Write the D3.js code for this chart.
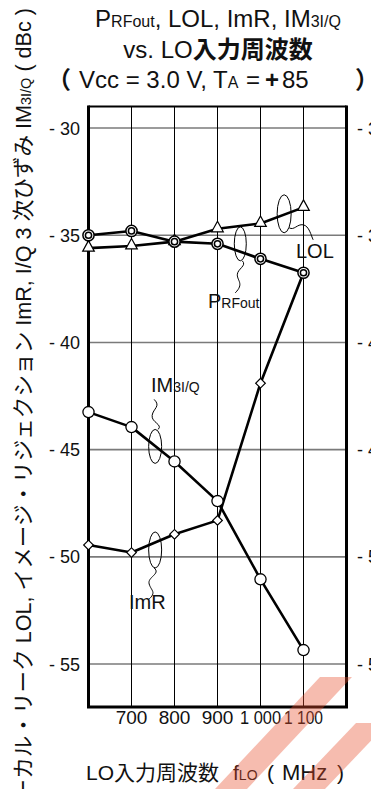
<!DOCTYPE html>
<html>
<head>
<meta charset="utf-8">
<script src="https://cdn.jsdelivr.net/npm/d3@7/dist/d3.min.js"></script>
<style>
  html, body { margin: 0; padding: 0; background: #fff; }
  svg { display: block; }
  text { font-family: "Liberation Sans", Arial, "Noto Sans CJK JP", sans-serif; fill: #111; }
</style>
</head>
<body>
<svg id="chart" width="371" height="789"></svg>
<script>
// LO input frequency (MHz)
const freqs = [600, 700, 800, 900, 1000, 1100];
// RF output power relative level (dBc)
const prfout = [-35.0, -34.8, -35.3, -35.4, -36.1, -36.75];
// LO leakage (dBc)
const lol = [-35.6, -35.5, -35.3, -34.7, -34.45, -33.7];
// I/Q third-order distortion (dBc)
const im3 = [-43.25, -43.95, -45.55, -47.4, -51.05, -54.35];
// Image rejection (dBc)
const imr = [-49.45, -49.8, -48.95, -48.3, -41.9, -36.75];

const xTicks = [700, 800, 900, 1000, 1100];
const xTickLabels = ["700", "800", "900", "1 000", "1 100"];
const yTicks = [-30, -35, -40, -45, -50, -55];
const yTickLabels = ["- 30", "- 35", "- 40", "- 45", "- 50", "- 55"];

const svg = d3.select("#chart");
const x = d3.scaleLinear().domain([600, 1200]).range([88.5, 346.5]);
const y = d3.scaleLinear().domain([-57, -29]).range([706.9, 106.6]);
const [x0, x1] = x.range();
const [yb, yt] = y.range();

// horizontal grid
svg.append("g").selectAll("line").data(yTicks).join("line")
  .attr("x1", x0).attr("x2", x1)
  .attr("y1", d => y(d)).attr("y2", d => y(d))
  .attr("stroke", "#7a7a7a").attr("stroke-width", 1.6);

// vertical grid
svg.append("g").selectAll("line").data(xTicks).join("line")
  .attr("x1", d => x(d)).attr("x2", d => x(d))
  .attr("y1", yt).attr("y2", yb)
  .attr("stroke", "#000").attr("stroke-width", 1);

// frame
svg.append("line").attr("x1", x0).attr("x2", x1).attr("y1", yt).attr("y2", yt)
  .attr("stroke", "#000").attr("stroke-width", 2);
svg.append("line").attr("x1", x0 - 1.5).attr("x2", x1 + 1.5).attr("y1", yb).attr("y2", yb)
  .attr("stroke", "#000").attr("stroke-width", 3);
svg.append("line").attr("x1", x0).attr("x2", x0).attr("y1", yt - 1).attr("y2", yb)
  .attr("stroke", "#000").attr("stroke-width", 3);
svg.append("line").attr("x1", x1).attr("x2", x1).attr("y1", yt - 1).attr("y2", yb)
  .attr("stroke", "#000").attr("stroke-width", 3);

// y tick labels, left and right
svg.append("g").selectAll("text").data(yTicks).join("text")
  .attr("x", 80).attr("y", d => y(d)).attr("dy", "0.36em")
  .attr("text-anchor", "end").attr("font-size", 18)
  .text((d, i) => yTickLabels[i]);
svg.append("g").selectAll("text").data(yTicks).join("text")
  .attr("x", 357).attr("y", d => y(d)).attr("dy", "0.36em")
  .attr("text-anchor", "start").attr("font-size", 18)
  .text((d, i) => yTickLabels[i]);

// x tick labels
svg.append("g").selectAll("text").data(xTicks).join("text")
  .attr("x", d => x(d)).attr("y", 724)
  .attr("text-anchor", "middle").attr("font-size", 19)
  .each(function (d, i) {
    const t = d3.select(this).text(xTickLabels[i]);
    if (d >= 1000) t.attr("textLength", d === 1000 ? 41 : 39).attr("lengthAdjust", "spacingAndGlyphs");
  });

// series lines
const line = d3.line().x((d, i) => x(freqs[i])).y(d => y(d));
[imr, im3, lol, prfout].forEach(s => {
  svg.append("path").datum(s).attr("d", line)
    .attr("fill", "none").attr("stroke", "#000").attr("stroke-width", 2.6)
    .attr("stroke-linejoin", "round");
});

// markers
const mk = svg.append("g").attr("stroke", "#000").attr("fill", "#fff");
mk.selectAll(".imr").data(imr).join("path").attr("class", "imr")
  .attr("transform", (d, i) => `translate(${x(freqs[i])},${y(d)}) rotate(45)`)
  .attr("d", "M-3.4,-3.4H3.4V3.4H-3.4Z").attr("stroke-width", 1.2);
mk.selectAll(".im3").data(im3).join("circle").attr("class", "im3")
  .attr("cx", (d, i) => x(freqs[i])).attr("cy", d => y(d)).attr("r", 5.6)
  .attr("stroke-width", 1.3);
mk.selectAll(".lol").data(lol).join("path").attr("class", "lol")
  .attr("transform", (d, i) => `translate(${x(freqs[i])},${y(d)})`)
  .attr("d", "M0,-7.5L5.8,3L-5.8,3Z").attr("stroke-width", 1.2);
const pr = mk.selectAll(".prf").data(prfout).join("g").attr("class", "prf")
  .attr("transform", (d, i) => `translate(${x(freqs[i])},${y(d)})`);
pr.append("circle").attr("r", 5.6).attr("stroke-width", 1.5);
pr.append("circle").attr("r", 3.1).attr("stroke-width", 1.5);

// series call-outs: loop around the curve plus a wavy leader to the name
const ann = svg.append("g").attr("fill", "none").attr("stroke", "#000").attr("stroke-width", 1);
function loop(cx, cy, rx, ry) {
  ann.append("ellipse").attr("cx", cx).attr("cy", cy).attr("rx", rx).attr("ry", ry);
}
function lead(d) { ann.append("path").attr("d", d); }

// IM3I/Q
{
  const cx = x(755), cy = y(-44.85);
  loop(cx, cy, 6.5, 17);
  lead(`M${cx + 3},${cy - 17} C${cx + 8},${cy - 22} ${cx - 4},${cy - 24} ${cx - 3},${cy - 31} S${cx + 6},${cy - 40} ${cx - 1},${cy - 47}`);
}
// ImR
{
  const cx = x(755), cy = y(-49.68);
  loop(cx, cy, 6.5, 18);
  lead(`M${cx - 1},${cy + 18} C${cx + 6},${cy + 24} ${cx - 8},${cy + 27} ${cx - 6},${cy + 34} S${cx + 2},${cy + 42} ${cx - 7},${cy + 50}`);
}
// PRFout
{
  const cx = x(953), cy = y(-35.4);
  loop(cx, cy, 6, 17);
  lead(`M${cx + 2},${cy + 17} C${cx + 7},${cy + 22} ${cx - 3},${cy + 25} ${cx - 3},${cy + 31} S${cx + 4},${cy + 40} ${cx - 5},${cy + 49}`);
}
// LOL
{
  const cx = x(1055), cy = y(-34.0);
  loop(cx, cy, 7, 19);
  lead(`M${cx + 5},${cy + 14} C${cx + 10},${cy + 17} ${cx + 13},${cy + 10} ${cx + 19},${cy + 11} S${cx + 27},${cy + 22} ${cx + 29},${cy + 26}`);
}

// series names
function label(xp, yp, big, small, size) {
  const t = svg.append("text").attr("x", xp).attr("y", yp).attr("font-size", size);
  t.append("tspan").text(big);
  if (small) t.append("tspan").attr("font-size", size * 0.7).text(small);
}
label(208, 308, "P", "RFout", 20);
label(296, 258, "LOL", null, 20);
label(151, 392, "IM", "3I/Q", 20);
label(129, 609, "ImR", null, 20);

// title
{
  const t1 = svg.append("text").attr("x", 218).attr("y", 27).attr("text-anchor", "middle").attr("font-size", 24);
  t1.append("tspan").text("P");
  t1.append("tspan").attr("font-size", 16).text("RFout");
  t1.append("tspan").text(", LOL, ImR, IM");
  t1.append("tspan").attr("font-size", 16).text("3I/Q");

  const t2 = svg.append("text").attr("x", 218).attr("y", 58).attr("text-anchor", "middle").attr("font-size", 24);
  t2.append("tspan").text("vs. LO");
  t2.append("tspan").attr("font-weight", "bold").attr("font-family", "Noto Sans CJK JP").text("入力周波数");

  svg.append("text").attr("x", 47).attr("y", 88).attr("font-size", 24)
    .attr("font-family", "Noto Sans CJK JP").attr("font-weight", "bold").text("（");
  const t3 = svg.append("text").attr("x", 79).attr("y", 88).attr("font-size", 24);
  t3.append("tspan").text("Vcc = 3.0 V, T");
  t3.append("tspan").attr("font-size", 16).text("A");
  t3.append("tspan").attr("x", 246).text("=");
  t3.append("tspan").attr("x", 265).attr("font-weight", "bold").text("+");
  t3.append("tspan").attr("x", 282).text("85");
  svg.append("text").attr("x", 355).attr("y", 88).attr("font-size", 24)
    .attr("font-family", "Noto Sans CJK JP").attr("font-weight", "bold").text("）");
}

// x axis title
{
  const t = svg.append("text").attr("x", 86).attr("y", 780).attr("font-size", 21);
  t.append("tspan").text("LO入力周波数");
  t.append("tspan").attr("x", 233).text("f");
  t.append("tspan").attr("font-size", 14).text("LO");
  t.append("tspan").attr("x", 267).text("(");
  t.append("tspan").attr("x", 282).attr("font-size", 22).text("MHz");
  t.append("tspan").attr("x", 337).text(")");
}

// y axis title (rotated)
{
  const t = svg.append("text").attr("transform", "translate(31,8) rotate(-90)")
    .attr("text-anchor", "end").attr("font-size", 21.6);
  t.append("tspan").text("ローカル・リーク LOL, イメージ・リジェクション ImR, I/Q 3 次ひずみ IM");
  t.append("tspan").attr("font-size", 14.5).text("3I/Q");
  t.append("tspan").text(" ( dBc )");
}

// publisher mark in the lower right corner
const mark = svg.append("g").attr("fill", "#e8502d").attr("fill-opacity", 0.38);
mark.append("path").attr("d", "M320,677 L352,677 L247,789 L215,789 Z");
mark.append("path").attr("d", "M356,723 L388,723 L325,789 L293,789 Z");
</script>
</body>
</html>
